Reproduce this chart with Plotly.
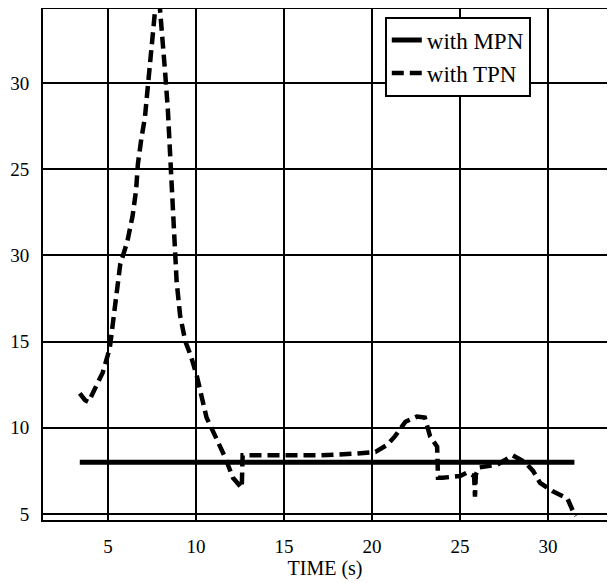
import plotly.graph_objects as go

# Data
mpn_time = [3.4, 31.5]
mpn_value = [8.0, 8.0]

tpn_time = [3.4, 3.7, 3.9, 4.2, 4.7, 5.1, 5.4, 5.7, 6.1, 6.4, 6.6, 6.7, 6.9, 7.1, 7.2, 7.4,
            7.6, 7.75, 7.9, 8.1, 8.25, 8.4, 8.5, 8.6, 8.75, 8.9, 9.1, 9.4, 9.7, 10.05, 10.6,
            11.2, 11.65, 12.1, 12.6, 12.65, 13.5, 15.0, 17.0, 19.0, 20.2, 20.85, 21.3, 21.9,
            22.55, 23.0, 23.3, 23.7, 23.75, 24.0, 25.0, 25.4, 25.8, 25.85, 25.9, 26.1, 27.1,
            28.0, 28.7, 29.15, 29.55, 30.3, 31.1, 31.4, 31.6]
tpn_value = [12.0, 11.6, 11.5, 12.1, 13.2, 14.6, 17.0, 19.5, 20.8, 22.3, 23.8, 25.3, 26.8, 28.0,
             29.1, 31.1, 33.0, 35.0, 35.0, 32.0, 30.6, 28.5, 26.4, 24.3, 21.0, 18.5, 16.5, 15.0,
             14.2, 13.0, 10.6, 9.3, 8.3, 7.1, 6.5, 8.4, 8.4, 8.4, 8.4, 8.5, 8.6, 9.0, 9.5, 10.35,
             10.65, 10.6, 9.5, 8.9, 7.1, 7.1, 7.2, 7.4, 7.2, 6.0, 7.3, 7.7, 7.85, 8.4, 8.0, 7.5,
             6.8, 6.3, 5.9, 5.2, 4.9]

x_ticks = [5, 10, 15, 20, 25, 30]
x_tick_labels = ["5", "10", "15", "20", "25", "30"]
y_ticks = [5, 10, 15, 20, 25, 30]
y_tick_labels = ["5", "10", "15", "30", "25", "30"]

FONT = "Liberation Serif"

fig = go.Figure()
fig.add_trace(go.Scatter(x=mpn_time, y=mpn_value, mode="lines", name="with MPN",
                         line=dict(color="black", width=5)))
fig.add_trace(go.Scatter(x=tpn_time, y=tpn_value, mode="lines", name="with TPN",
                         line=dict(color="black", width=4.5, dash="12px,6px")))

# page body has an 8px margin, so the figure is sized/offset to compensate
fig.update_layout(
    width=607, height=575,
    margin=dict(l=35, r=8, t=1, b=63),
    paper_bgcolor="white", plot_bgcolor="white",
    font=dict(family=FONT, size=19, color="black"),
    showlegend=True,
    legend=dict(x=0.606, y=0.985, xanchor="left", yanchor="top",
                bgcolor="white", bordercolor="black", borderwidth=2,
                font=dict(family=FONT, size=23, color="black"),
                tracegroupgap=2),
    xaxis=dict(range=[1.31, 33.35], tickvals=x_ticks, ticktext=x_tick_labels,
               showgrid=True, gridcolor="black", gridwidth=2,
               showline=True, linecolor="black", linewidth=2, mirror=True,
               zeroline=False, ticks="", ticklabelstandoff=8, automargin=False,
               tickfont=dict(family=FONT, size=19),
               title=dict(text="TIME (s)", font=dict(family=FONT, size=20), standoff=0)),
    yaxis=dict(range=[4.65, 34.3], tickvals=y_ticks, ticktext=y_tick_labels,
               showgrid=True, gridcolor="black", gridwidth=2,
               showline=True, linecolor="black", linewidth=2, mirror=True,
               zeroline=False, ticks="", ticklabelstandoff=8, automargin=False,
               tickfont=dict(family=FONT, size=19)),
)

fig.write_html("out.html")
